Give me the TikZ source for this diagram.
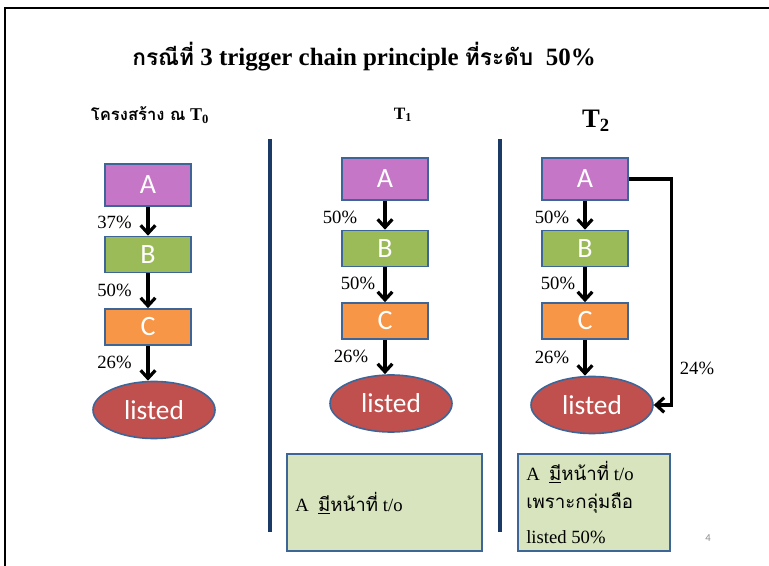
\documentclass[tikz,border=0pt]{standalone}
\usepackage{fontspec}
\setmainfont{Liberation Serif}
\newfontfamily\thai[Script=Thai]{Loma}
\newfontfamily\calib{Carlito}
\usetikzlibrary{arrows.meta,shapes.geometric}
\definecolor{cA}{HTML}{C576C6}
\definecolor{cB}{HTML}{9BBB59}
\definecolor{cC}{HTML}{F79646}
\definecolor{cL}{HTML}{C0504D}
\definecolor{bord}{HTML}{3E6597}
\definecolor{gbox}{HTML}{D7E4BD}
\definecolor{navy}{HTML}{1B3A66}
\definecolor{pgnum}{HTML}{8C8C8C}
\tikzset{
  blk/.style={rectangle, draw=bord, line width=1.2pt, inner sep=0pt,
    minimum width=64.5pt, text=white, font=\calib\fontsize{21}{23}\selectfont},
  boxA/.style={blk, fill=cA, minimum height=31.5pt},
  boxB/.style={blk, fill=cB, minimum height=27pt},
  boxC/.style={blk, fill=cC, minimum height=27pt},
  lst/.style={ellipse, draw=bord, line width=1.2pt, fill=cL, inner sep=0pt,
    minimum width=91.5pt, minimum height=42.75pt, text=white,
    font=\calib\fontsize{20.5}{22}\selectfont},
  arr/.style={line width=2.4pt, -{Straight Barb[length=6pt,width=11pt,line width=2.4pt]}},
  pct/.style={inner sep=0pt, font=\fontsize{14}{16}\selectfont},
  divider/.style={line width=3pt, draw=navy},
  note/.style={rectangle, draw=bord, line width=1.4pt, fill=gbox, inner sep=0pt,
    minimum height=72.75pt},
  ntext/.style={anchor=west, inner sep=0pt, font=\fontsize{14}{16}\selectfont},
  frame/.style={line width=1.6pt, draw=black}
}
\begin{document}
\begin{tikzpicture}[x=0.75pt,y=-0.75pt]
\useasboundingbox (0,0) rectangle (769,566);
% frame
\draw[frame] (5,566) -- (5,8) -- (769,8);

% title
\node[inner sep=0pt, font=\bfseries\fontsize{18.7}{22}\selectfont] (title) at (364,57)
  {{\thai\fontsize{17}{20}\selectfont กรณีที่} 3 trigger chain principle {\thai\fontsize{17}{20}\selectfont ที่ระดับ}~~50\%};

% column headers
\node[inner sep=0pt, font=\bfseries\fontsize{13.5}{15}\selectfont] (h0) at (150,115)
  {{\thai\fontsize{12.5}{14}\selectfont โครงสร้าง ณ} T$_{\mathbf{0}}$};
\node[inner sep=0pt, font=\bfseries\fontsize{13}{15}\selectfont] (h1) at (403,115) {T$_{\mathbf{1}}$};
\node[inner sep=0pt, font=\bfseries\fontsize{20}{22}\selectfont] (h2) at (596,121) {T$_{\mathbf{2}}$};

% dividers
\coordinate (d1t) at (270,139); \coordinate (d1b) at (270,532);
\coordinate (d2t) at (500,139); \coordinate (d2b) at (500,532);
\draw[divider] (d1t) -- (d1b);
\draw[divider] (d2t) -- (d2b);

% column 1 (T0)
\node[boxA] (A0) at (148,185) {A};
\node[boxB] (B0) at (148,254.5) {B};
\node[boxC] (C0) at (148,327) {C};
\node[lst] (L0) at (154,410) {listed};
\draw[arr] (A0.south) -- (B0.north);
\draw[arr] (B0.south) -- (C0.north);
\draw[arr] (C0.south) -- (C0.south |- L0.north);
\node[pct] (p01) at (114.5,222) {37\%};
\node[pct] (p02) at (114.5,290) {50\%};
\node[pct] (p03) at (114.5,362) {26\%};

% column 2 (T1)
\node[boxA] (A1) at (385,179) {A};
\node[boxB] (B1) at (385,248.5) {B};
\node[boxC] (C1) at (385,321) {C};
\node[lst] (L1) at (391,403.5) {listed};
\draw[arr] (A1.south) -- (B1.north);
\draw[arr] (B1.south) -- (C1.north);
\draw[arr] (C1.south) -- (C1.south |- L1.north);
\node[pct] (p11) at (340,217) {50\%};
\node[pct] (p12) at (358,283) {50\%};
\node[pct] (p13) at (351,356) {26\%};

% column 3 (T2)
\node[boxA] (A2) at (585,179) {A};
\node[boxB] (B2) at (585,248.5) {B};
\node[boxC] (C2) at (585,321) {C};
\node[lst] (L2) at (592,405) {listed};
\draw[arr] (A2.south) -- (B2.north);
\draw[arr] (B2.south) -- (C2.north);
\draw[arr] (C2.south) -- (C2.south |- L2.north);
\draw[arr] (A2.east) -- ++(43,0) |- (L2.east);
\node[pct] (p21) at (552,217) {50\%};
\node[pct] (p22) at (558,283) {50\%};
\node[pct] (p23) at (552,357) {26\%};
\node[pct] (p24) at (697,368) {24\%};

% notes
\node[note, minimum width=146.25pt] (n1) at (384.5,502.5) {};
\node[ntext] (n1t) at (295,503) {A~~\underline{\thai มี}{\thai หน้าที่} t/o};
\node[note, minimum width=114pt] (n2) at (594,502.5) {};
\node[ntext] (n2a) at (526,472) {A~~\underline{\thai มี}{\thai หน้าที่} t/o};
\node[ntext] (n2b) at (526,503) {\thai เพราะกลุ่มถือ};
\node[ntext] (n2c) at (526,537) {listed 50\%};

% page number
\node[inner sep=0pt, text=pgnum, font=\calib\fontsize{8}{9}\selectfont] (pg) at (708,538) {4};
\end{tikzpicture}
\end{document}
